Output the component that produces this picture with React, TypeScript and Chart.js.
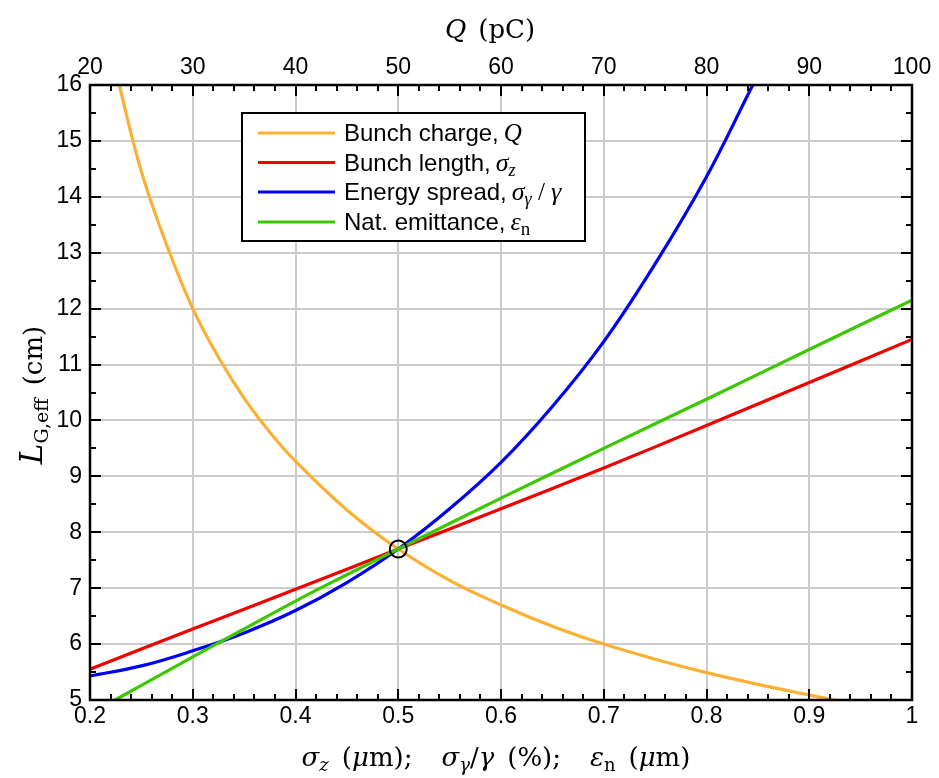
import React, { useEffect, useRef } from "react";
import { Chart, registerables } from "chart.js";

Chart.register(...registerables);

// ---- Data ----
// Bunch charge curve, plotted against top axis Q (pC)
const chargeQ = [22.2, 22.85, 25, 27.5, 30, 32.5, 35, 37.5, 40, 45, 50, 55, 60, 65, 70, 75, 80, 85, 90, 93];
const chargeL = [16.55, 16.0, 14.45, 13.12, 12.0, 11.13, 10.40, 9.79, 9.27, 8.40, 7.70, 7.14, 6.70, 6.32, 6.00, 5.73, 5.49, 5.28, 5.09, 4.98];

// Bunch length curve (sigma_z, um)
const lengthX = [0.2, 0.3, 0.4, 0.5, 0.6, 0.7, 0.8, 0.9, 1.0];
const lengthL = [5.55, 6.27, 6.98, 7.70, 8.42, 9.15, 9.91, 10.68, 11.45];

// Energy spread curve (%)
const spreadX = [0.2, 0.25, 0.3, 0.35, 0.4, 0.45, 0.5, 0.55, 0.6, 0.65, 0.7, 0.75, 0.8, 0.845];
const spreadL = [5.43, 5.61, 5.88, 6.20, 6.60, 7.10, 7.70, 8.42, 9.25, 10.25, 11.41, 12.80, 14.36, 16.0];

// Normalized emittance curve (um)
const emitX = [0.2243, 0.25, 0.3, 0.35, 0.4, 0.45, 0.5, 0.6, 0.7, 0.8, 0.9, 1.0];
const emitL = [5.0, 5.26, 5.77, 6.27, 6.77, 7.24, 7.70, 8.61, 9.50, 10.38, 11.27, 12.15];

// Marked working point
const markX = [0.5];
const markL = [7.7];

// Axis ranges / ticks
const xRange = [0.2, 1.0];
const qRange = [20, 100];
const yRange = [5, 16];
const xMajor = 0.1, xMinor = 0.02;
const qMajor = 10, qMinor = 2;
const yMajor = 1, yMinor = 0.5;

const COLORS = {
  charge: "#FBB034",
  length: "#F20000",
  spread: "#0000F5",
  emit: "#3CC800",
};

const SANS = '"Liberation Sans", Arial, sans-serif';
const SERIF = '"Liberation Serif", "DejaVu Serif", serif';
const TSERIF = '"DejaVu Serif", "Liberation Serif", serif';

type Part = { t: string; font?: string; dy?: number; w?: number };

function partW(ctx: CanvasRenderingContext2D, p: Part) {
  if (p.w !== undefined) return p.w;
  ctx.font = p.font as string;
  return ctx.measureText(p.t).width;
}

function drawParts(ctx: CanvasRenderingContext2D, parts: Part[], x: number, y: number, align: "left" | "center") {
  let w = 0;
  for (const p of parts) w += partW(ctx, p);
  let cx = align === "center" ? x - w / 2 : x;
  ctx.textAlign = "left";
  ctx.textBaseline = "alphabetic";
  for (const p of parts) {
    const pw = partW(ctx, p);
    if (p.w === undefined) {
      ctx.font = p.font as string;
      ctx.fillText(p.t, cx, y + (p.dy || 0));
    }
    cx += pw;
  }
}

const it = (s: number) => `italic ${s}px ${SERIF}`;
const up = (s: number) => `${s}px ${SERIF}`;
const tit = (s: number) => `italic ${s}px ${TSERIF}`;
const tup = (s: number) => `${s}px ${TSERIF}`;
const gap = (w: number): Part => ({ t: "", w });

const decorPlugin = {
  id: "decor",
  afterDraw(chart: any) {
    const ctx: CanvasRenderingContext2D = chart.ctx;
    const a = chart.chartArea;
    const sx = chart.scales.x;
    const sq = chart.scales.xTop;
    const sy = chart.scales.y;
    ctx.save();
    ctx.strokeStyle = "#000";
    ctx.lineWidth = 2;
    ctx.beginPath();
    const nx = Math.round((xRange[1] - xRange[0]) / xMinor);
    for (let i = 0; i <= nx; i++) {
      const v = xRange[0] + i * xMinor;
      const px = Math.round(sx.getPixelForValue(v));
      const len = i % Math.round(xMajor / xMinor) === 0 ? 11 : 6;
      ctx.moveTo(px, a.bottom);
      ctx.lineTo(px, a.bottom - len);
    }
    const nq = Math.round((qRange[1] - qRange[0]) / qMinor);
    for (let i = 0; i <= nq; i++) {
      const v = qRange[0] + i * qMinor;
      const px = Math.round(sq.getPixelForValue(v));
      const len = i % Math.round(qMajor / qMinor) === 0 ? 11 : 6;
      ctx.moveTo(px, a.top);
      ctx.lineTo(px, a.top + len);
    }
    const ny = Math.round((yRange[1] - yRange[0]) / yMinor);
    for (let i = 0; i <= ny; i++) {
      const v = yRange[0] + i * yMinor;
      const py = Math.round(sy.getPixelForValue(v));
      const len = i % Math.round(yMajor / yMinor) === 0 ? 11 : 6;
      ctx.moveTo(a.left, py);
      ctx.lineTo(a.left + len, py);
      ctx.moveTo(a.right, py);
      ctx.lineTo(a.right - len, py);
    }
    ctx.stroke();
    ctx.lineWidth = 2.5;
    ctx.strokeRect(a.left, a.top, a.right - a.left, a.bottom - a.top);

    // legend
    const lx = 242, ly = 113, lw = 343, lh = 128;
    ctx.fillStyle = "#fff";
    ctx.fillRect(lx, ly, lw, lh);
    ctx.lineWidth = 2;
    ctx.strokeStyle = "#000";
    ctx.strokeRect(lx, ly, lw, lh);
    const LS = `24px ${SANS}`;
    const entries: { c: string; parts: Part[] }[] = [
      { c: COLORS.charge, parts: [{ t: "Bunch charge,", font: LS }, gap(5), { t: "Q", font: it(25) }] },
      {
        c: COLORS.length,
        parts: [
          { t: "Bunch length,", font: LS },
          gap(5),
          { t: "σ", font: it(26) },
          { t: "z", font: it(18), dy: 5 },
        ],
      },
      {
        c: COLORS.spread,
        parts: [
          { t: "Energy spread,", font: LS },
          gap(5),
          { t: "σ", font: it(26) },
          { t: "γ", font: it(18), dy: 5 },
          { t: " / ", font: up(25) },
          { t: "γ", font: it(26) },
        ],
      },
      {
        c: COLORS.emit,
        parts: [
          { t: "Nat. emittance,", font: LS },
          gap(5),
          { t: "ε", font: it(26) },
          { t: "n", font: up(19), dy: 5 },
        ],
      },
    ];
    const rowY = [133, 162.5, 192, 222];
    entries.forEach((e, i) => {
      ctx.strokeStyle = e.c;
      ctx.lineWidth = 3.2;
      ctx.beginPath();
      ctx.moveTo(258, rowY[i]);
      ctx.lineTo(335, rowY[i]);
      ctx.stroke();
      ctx.fillStyle = "#000";
      drawParts(ctx, e.parts, 344, rowY[i] + 8, "left");
    });

    // axis titles
    ctx.fillStyle = "#000";
    const S = 26;
    const SB = 18;
    const bottomTitle: Part[] = [
      { t: "σ", font: tit(S) },
      { t: "z", font: tit(SB), dy: 5 },
      gap(13),
      { t: "(", font: tup(S) },
      { t: "μ", font: tit(S) },
      { t: "m);", font: tup(S) },
      gap(29),
      { t: "σ", font: tit(S) },
      { t: "γ", font: tit(SB), dy: 5 },
      { t: "/", font: tup(S) },
      { t: "γ", font: tit(S) },
      gap(13),
      { t: "(%);", font: tup(S) },
      gap(29),
      { t: "ε", font: tit(S) },
      { t: "n", font: tup(SB), dy: 5 },
      gap(13),
      { t: "(", font: tup(S) },
      { t: "μ", font: tit(S) },
      { t: "m)", font: tup(S) },
    ];
    drawParts(ctx, bottomTitle, 496, 766, "center");

    const topTitle: Part[] = [
      { t: "Q", font: tit(S) },
      gap(12),
      { t: "(pC)", font: tup(S) },
    ];
    drawParts(ctx, topTitle, 490, 38, "center");

    ctx.save();
    ctx.translate(42, 395);
    ctx.rotate(-Math.PI / 2);
    const leftTitle: Part[] = [
      { t: "L", font: tit(31) },
      { t: "G,eff", font: tup(19), dy: 6 },
      gap(13),
      { t: "(cm)", font: tup(26) },
    ];
    drawParts(ctx, leftTitle, 0, 0, "center");
    ctx.restore();

    ctx.restore();
  },
};

const fmt1 = (v: number) => String(Number(Number(v).toFixed(1)));

export default function App() {
  const ref = useRef<HTMLCanvasElement | null>(null);
  useEffect(() => {
    if (!ref.current) return;
    const tickFont = { family: SANS, size: 23 };
    const lineCommon = {
      xAxisID: "x",
      yAxisID: "y",
      borderWidth: 3.2,
      pointRadius: 0,
      tension: 0.4,
      clip: 0,
    };
    const chart = new Chart(ref.current, {
      type: "line",
      data: {
        datasets: [
          {
            type: "scatter",
            label: "mark",
            data: markX.map((x, i) => ({ x, y: markL[i] })),
            xAxisID: "x",
            yAxisID: "y",
            pointRadius: 8.5,
            pointBorderWidth: 2,
            pointBorderColor: "#000",
            pointBackgroundColor: "rgba(0,0,0,0)",
            showLine: false,
            order: 0,
          } as any,
          {
            ...lineCommon,
            label: "Nat. emittance",
            data: emitX.map((x, i) => ({ x, y: emitL[i] })),
            borderColor: COLORS.emit,
            order: 1,
          },
          {
            ...lineCommon,
            label: "Energy spread",
            data: spreadX.map((x, i) => ({ x, y: spreadL[i] })),
            borderColor: COLORS.spread,
            order: 2,
          },
          {
            ...lineCommon,
            label: "Bunch length",
            data: lengthX.map((x, i) => ({ x, y: lengthL[i] })),
            borderColor: COLORS.length,
            order: 3,
          },
          {
            ...lineCommon,
            label: "Bunch charge",
            data: chargeQ.map((x, i) => ({ x, y: chargeL[i] })),
            xAxisID: "xTop",
            borderColor: COLORS.charge,
            order: 4,
          },
        ],
      },
      options: {
        responsive: false,
        animation: false,
        layout: { padding: { left: 0, right: 27, top: 0, bottom: 0 } },
        plugins: { legend: { display: false }, tooltip: { enabled: false } },
        scales: {
          x: {
            type: "linear",
            position: "bottom",
            min: xRange[0],
            max: xRange[1],
            ticks: { stepSize: xMajor, padding: 3, color: "#000", font: tickFont, callback: (v: any) => fmt1(v), maxRotation: 0, autoSkip: false },
            grid: { color: "#cccccc", lineWidth: 2, drawTicks: false },
            border: { display: false },
            afterFit: (s: any) => { s.height = 78; },
          },
          xTop: {
            type: "linear",
            position: "top",
            min: qRange[0],
            max: qRange[1],
            ticks: { stepSize: qMajor, padding: 4, color: "#000", font: tickFont, maxRotation: 0, autoSkip: false },
            grid: { display: false, drawTicks: false },
            border: { display: false },
            afterFit: (s: any) => { s.height = 85; },
          },
          y: {
            type: "linear",
            position: "left",
            min: yRange[0],
            max: yRange[1],
            ticks: { stepSize: yMajor, padding: 8, color: "#000", font: tickFont, autoSkip: false },
            grid: { color: "#cccccc", lineWidth: 2, drawTicks: false },
            border: { display: false },
            afterFit: (s: any) => { s.width = 90; },
          },
        },
      } as any,
      plugins: [decorPlugin],
    });
    return () => chart.destroy();
  }, []);
  return (
    <div style={{ position: "fixed", left: 0, top: 0, width: 939, height: 778, background: "#fff" }}>
      <canvas ref={ref} width={939} height={778} style={{ width: 939, height: 778 }} />
    </div>
  );
}
